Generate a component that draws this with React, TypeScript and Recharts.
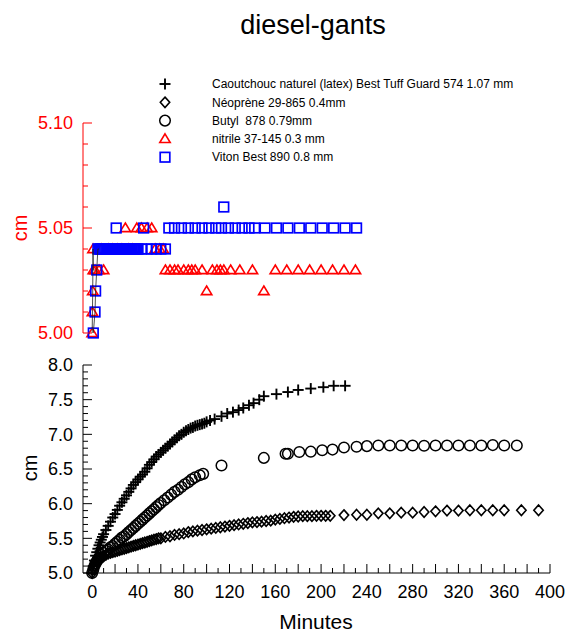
import React from "react";
import { ComposedChart, Scatter, XAxis, YAxis } from "recharts";

const FONT = "'Liberation Sans', Arial, Helvetica, sans-serif";
const RED = "#ff0000";
const BLUE = "#0000ff";
const BLACK = "#000000";

// Caoutchouc naturel (latex) Best Tuff Guard 574
const caoutchoucTime = [
  0, 1, 2, 3, 4, 5, 6, 7, 8, 9, 10,
  12, 14, 16, 18, 20, 22, 24, 26, 28, 30,
  32, 34, 36, 38, 40, 42, 44, 46, 48, 50,
  52, 54, 56, 58, 60, 62, 64, 66, 68, 70,
  72, 74, 76, 78, 80, 82, 84, 86, 88, 90,
  92, 94, 96, 98, 100,
  103, 107, 113, 118, 123, 128, 132, 137, 141, 146,
  150, 161, 171, 180, 191, 202, 211, 221,
];
const caoutchoucCm = [
  5.0, 5.1, 5.18, 5.25, 5.3, 5.35, 5.4, 5.44, 5.48, 5.52, 5.56,
  5.62, 5.68, 5.74, 5.8, 5.85, 5.91, 5.97, 6.02, 6.07, 6.12,
  6.17, 6.22, 6.27, 6.31, 6.35, 6.39, 6.42, 6.46, 6.51, 6.56,
  6.6, 6.64, 6.68, 6.71, 6.74, 6.77, 6.8, 6.83, 6.86, 6.89,
  6.92, 6.95, 6.98, 7.0, 7.03, 7.05, 7.07, 7.09, 7.1, 7.12,
  7.13, 7.14, 7.15, 7.16, 7.18,
  7.2, 7.22, 7.26, 7.3, 7.32, 7.35, 7.38, 7.42, 7.45, 7.5,
  7.55, 7.58, 7.61, 7.64, 7.66, 7.68, 7.7, 7.7,
];

// Néoprène 29-865
const neopreneTime = [
  0, 1, 2, 3, 4, 5, 6, 7, 8, 9, 10,
  12, 14, 16, 18, 20, 22, 24, 26, 28, 30,
  32, 34, 36, 38, 40, 42, 44, 46, 48, 50,
  52, 54, 56, 58, 60, 64, 68, 72, 76, 80,
  84, 88, 92, 96, 100, 104, 108, 112, 116, 120,
  124, 128, 132, 136, 140, 144, 148, 152, 156, 160,
  164, 168, 172, 176, 180, 184, 188, 192, 196, 200,
  204, 208, 220, 231, 240, 250, 260, 270, 280, 290,
  300, 310, 320, 330, 340, 350, 360, 375, 390,
];
const neopreneCm = [
  5.0, 5.06, 5.1, 5.13, 5.16, 5.18, 5.2, 5.21, 5.22, 5.23, 5.24,
  5.26, 5.28, 5.29, 5.3, 5.31, 5.32, 5.33, 5.34, 5.35, 5.36,
  5.37, 5.38, 5.39, 5.4, 5.41, 5.42, 5.43, 5.44, 5.45, 5.46,
  5.47, 5.48, 5.49, 5.5, 5.5, 5.52, 5.53, 5.55, 5.56, 5.57,
  5.59, 5.6, 5.61, 5.62, 5.63, 5.64, 5.65, 5.66, 5.67, 5.68,
  5.69, 5.7, 5.71, 5.72, 5.73, 5.735, 5.74, 5.75, 5.755, 5.77,
  5.78, 5.79, 5.8, 5.81, 5.815, 5.82, 5.82, 5.82, 5.825, 5.825,
  5.825, 5.825, 5.835, 5.84, 5.84, 5.86, 5.86, 5.87, 5.87, 5.88,
  5.89, 5.9, 5.9, 5.905, 5.905, 5.905, 5.905, 5.905, 5.905,
];

// Butyl 878
const butylTime = [
  0, 1, 2, 3, 4, 5, 6, 8, 10,
  12, 14, 16, 18, 20, 22, 24, 26, 28, 30,
  32, 34, 36, 38, 40, 42, 44, 46, 48, 50,
  52, 54, 56, 58, 60, 63, 66, 69, 72, 75,
  78, 81, 84, 87, 90, 94, 97,
  113, 150, 169, 171, 181, 191, 201, 210, 220, 231,
  240, 250, 260, 270, 280, 290, 300, 310, 320, 330, 340, 350, 360, 371,
];
const butylCm = [
  5.0, 5.05, 5.1, 5.14, 5.17, 5.2, 5.22, 5.26, 5.29,
  5.32, 5.34, 5.37, 5.39, 5.42, 5.45, 5.48, 5.51, 5.53, 5.56,
  5.59, 5.62, 5.65, 5.68, 5.71, 5.74, 5.77, 5.8, 5.83, 5.86,
  5.89, 5.92, 5.95, 5.98, 6.01, 6.05, 6.09, 6.13, 6.17, 6.2,
  6.24, 6.28, 6.31, 6.35, 6.38, 6.41, 6.43,
  6.55, 6.66, 6.72, 6.72, 6.745, 6.75, 6.77, 6.78, 6.81, 6.82,
  6.83, 6.84, 6.84, 6.84, 6.84, 6.835, 6.84, 6.84, 6.84, 6.84, 6.84, 6.845, 6.84, 6.84,
];

// nitrile 37-145
const nitrileTime = [
  0, 0.25, 0.5, 0.75, 1, 2.5, 6, 8, 10, 14,
  18, 22, 26, 29, 32, 35, 39, 43, 48, 52,
  55, 59, 62, 64, 68, 72, 75, 80, 84, 87,
  90, 96, 100, 105, 109, 112, 115, 121, 129, 140,
  150, 160, 170, 180, 190, 200, 210, 220, 230,
];
const nitrileCm = [
  5.0, 5.01, 5.02, 5.04, 5.03, 5.03, 5.03, 5.04, 5.03, 5.04,
  5.04, 5.04, 5.04, 5.05, 5.04, 5.04, 5.05, 5.05, 5.05, 5.05,
  5.04, 5.04, 5.04, 5.03, 5.03, 5.03, 5.03, 5.03, 5.03, 5.03,
  5.03, 5.03, 5.02, 5.03, 5.03, 5.03, 5.03, 5.03, 5.03, 5.03,
  5.02, 5.03, 5.03, 5.03, 5.03, 5.03, 5.03, 5.03, 5.03,
];

// Viton Best 890
const vitonTime = [
  1, 2.5, 3, 4, 5, 6, 7, 8, 9, 10,
  11, 12, 13, 14, 15, 16, 17, 18, 19, 20,
  21, 22, 23, 24, 25, 26, 27, 28, 29, 30,
  31, 32, 33, 34, 35, 36, 37, 38, 39, 40,
  43, 45, 48, 52, 56, 60, 64,
  67, 72, 78, 84, 90, 96, 102, 108, 113, 115,
  119, 125, 131, 137, 142,
  151, 161, 171, 181, 191, 201, 211, 221, 231,
];
const vitonCm = [
  5.0, 5.01, 5.02, 5.03, 5.04, 5.04, 5.04, 5.04, 5.04, 5.04,
  5.04, 5.04, 5.04, 5.04, 5.04, 5.04, 5.04, 5.04, 5.04, 5.04,
  5.05, 5.04, 5.04, 5.04, 5.04, 5.04, 5.04, 5.04, 5.04, 5.04,
  5.04, 5.04, 5.04, 5.04, 5.04, 5.04, 5.04, 5.04, 5.04, 5.04,
  5.04, 5.05, 5.04, 5.04, 5.04, 5.04, 5.04,
  5.05, 5.05, 5.05, 5.05, 5.05, 5.05, 5.05, 5.05, 5.05, 5.06,
  5.05, 5.05, 5.05, 5.05, 5.05,
  5.05, 5.05, 5.05, 5.05, 5.05, 5.05, 5.05, 5.05, 5.05,
];

const legendLabels = [
  "Caoutchouc naturel (latex) Best Tuff Guard 574 1.07 mm",
  "Néoprène 29-865 0.4mm",
  "Butyl  878 0.79mm",
  "nitrile 37-145 0.3 mm",
  "Viton Best 890 0.8 mm",
];

const xLabelTicks = [0, 40, 80, 120, 160, 200, 240, 280, 320, 360, 400];

const zip = (t: number[], v: number[]) => t.map((m, i) => ({ t: m, v: v[i] }));

const caoutchouc = zip(caoutchoucTime, caoutchoucCm);
const neoprene = zip(neopreneTime, neopreneCm);
const butyl = zip(butylTime, butylCm);
const nitrile = zip(nitrileTime, nitrileCm);
const viton = zip(vitonTime, vitonCm);

const X_DOMAIN: [number, number] = [-8, 400];
const xTicks = Array.from({ length: 41 }, (_, i) => i * 10);
const topTicks = Array.from({ length: 11 }, (_, i) => Number((5 + i * 0.01).toFixed(2)));
const bottomTicks = Array.from({ length: 31 }, (_, i) => Number((5 + i * 0.1).toFixed(1)));

// ---- marker shapes ----
const Plus = ({ cx, cy }: any) => (
  <g stroke={BLACK} strokeWidth={1.9}>
    <line x1={cx - 5.5} x2={cx + 5.5} y1={cy} y2={cy} />
    <line x1={cx} x2={cx} y1={cy - 5.5} y2={cy + 5.5} />
  </g>
);
const Diamond = ({ cx, cy }: any) => (
  <path
    d={`M${cx},${cy - 5.2}L${cx + 4.7},${cy}L${cx},${cy + 5.2}L${cx - 4.7},${cy}Z`}
    fill="none"
    stroke={BLACK}
    strokeWidth={1.6}
  />
);
const Ring = ({ cx, cy }: any) => (
  <circle cx={cx} cy={cy} r={5.3} fill="none" stroke={BLACK} strokeWidth={1.5} />
);
const Triangle = ({ cx, cy }: any) => (
  <path
    d={`M${cx},${cy - 5}L${cx + 5.2},${cy + 3.6}L${cx - 5.2},${cy + 3.6}Z`}
    fill="none"
    stroke={RED}
    strokeWidth={1.6}
  />
);
const Square = ({ cx, cy }: any) => (
  <rect x={cx - 4.8} y={cy - 4.8} width={9.6} height={9.6} fill="none" stroke={BLUE} strokeWidth={1.7} />
);
const Nothing = () => <g />;

// ---- inward ticks ----
const Y_MARGIN = 10;
const X_MARGIN = 10;

const yTick = (color: string, digits: number, majorEvery: number) => (props: any) => {
  const { x, y, payload, index } = props;
  const axisX = x + Y_MARGIN;
  const major = index % majorEvery === 0;
  return (
    <g>
      <line x1={axisX} x2={axisX + (major ? 9 : 5)} y1={y} y2={y} stroke={color} strokeWidth={1} />
      {major && (
        <text x={x} y={y} dy="0.36em" textAnchor="end" fill={color} fontSize={18} fontFamily={FONT}>
          {Number(payload.value).toFixed(digits)}
        </text>
      )}
    </g>
  );
};

const xTick = (props: any) => {
  const { x, y, payload } = props;
  const v = payload.value;
  const axisY = y - X_MARGIN;
  const tall = v % 20 === 0;
  return (
    <g>
      <line x1={x} x2={x} y1={axisY} y2={axisY - (tall ? 9 : 5)} stroke={BLACK} strokeWidth={1} />
      {xLabelTicks.includes(v) && (
        <text x={x} y={y + 15} textAnchor="middle" fill={BLACK} fontSize={18} fontFamily={FONT}>
          {v}
        </text>
      )}
    </g>
  );
};

const legendMarks = [Plus, Diamond, Ring, Triangle, Square];

export default function App() {
  return (
    <div style={{ position: "absolute", left: 0, top: 0, width: 566, height: 632, background: "#fff" }}>
      <div style={{ position: "absolute", left: 0, top: 100 }}>
        <ComposedChart width={566} height={250} margin={{ top: 23, right: 16, bottom: 17, left: 0 }}>
          <XAxis type="number" dataKey="t" domain={X_DOMAIN} allowDataOverflow hide />
          <YAxis
            type="number"
            dataKey="v"
            domain={[5, 5.1]}
            ticks={topTicks}
            interval={0}
            width={83}
            tickSize={0}
            tickMargin={Y_MARGIN}
            tickLine={false}
            axisLine={{ stroke: RED, strokeWidth: 1 }}
            tick={yTick(RED, 2, 5)}
          />
          <Scatter data={nitrile} dataKey="v" shape={Triangle} isAnimationActive={false} />
          <Scatter data={viton} dataKey="v" shape={Square} isAnimationActive={false} />
          <Scatter
            data={nitrile.slice(0, 6)}
            dataKey="v"
            shape={Nothing}
            line={{ stroke: "#222", strokeWidth: 0.8 }}
            isAnimationActive={false}
          />
          <Scatter
            data={viton.slice(0, 6)}
            dataKey="v"
            shape={Nothing}
            line={{ stroke: "#222", strokeWidth: 0.8 }}
            isAnimationActive={false}
          />
        </ComposedChart>
      </div>

      <div style={{ position: "absolute", left: 0, top: 340 }}>
        <ComposedChart width={566} height={292} margin={{ top: 25, right: 16, bottom: 0, left: 0 }}>
          <XAxis
            type="number"
            dataKey="t"
            domain={X_DOMAIN}
            ticks={xTicks}
            interval={0}
            height={59}
            tickSize={0}
            tickMargin={X_MARGIN}
            tickLine={false}
            axisLine={{ stroke: BLACK, strokeWidth: 1 }}
            tick={xTick}
          />
          <YAxis
            type="number"
            dataKey="v"
            domain={[5, 8]}
            ticks={bottomTicks}
            interval={0}
            width={83}
            tickSize={0}
            tickMargin={Y_MARGIN}
            tickLine={false}
            axisLine={{ stroke: BLACK, strokeWidth: 1 }}
            tick={yTick(BLACK, 1, 5)}
          />
          <Scatter data={neoprene} dataKey="v" shape={Diamond} isAnimationActive={false} />
          <Scatter data={butyl} dataKey="v" shape={Ring} isAnimationActive={false} />
          <Scatter data={caoutchouc} dataKey="v" shape={Plus} isAnimationActive={false} />
        </ComposedChart>
      </div>

      <svg width={566} height={632} style={{ position: "absolute", left: 0, top: 0, pointerEvents: "none" }}>
        <text x={313} y={34} textAnchor="middle" fontSize={27} fontFamily={FONT} fill={BLACK}>
          diesel-gants
        </text>
        {legendLabels.map((label, i) => {
          const Mark = legendMarks[i];
          const y = 84 + i * 18.3;
          return (
            <g key={label}>
              <Mark cx={165} cy={y} />
              <text x={212} y={y} dy="0.35em" fontSize={12} fontFamily={FONT} fill={BLACK} style={{ whiteSpace: "pre" }}>
                {label}
              </text>
            </g>
          );
        })}
        <text
          x={0}
          y={0}
          transform="translate(20,228) rotate(-90)"
          textAnchor="middle"
          dy="0.35em"
          fontSize={20}
          fontFamily={FONT}
          fill={RED}
        >
          cm
        </text>
        <text
          x={0}
          y={0}
          transform="translate(30,468) rotate(-90)"
          textAnchor="middle"
          dy="0.35em"
          fontSize={20}
          fontFamily={FONT}
          fill={BLACK}
        >
          cm
        </text>
        <text x={316} y={629} textAnchor="middle" fontSize={21} fontFamily={FONT} fill={BLACK}>
          Minutes
        </text>
      </svg>
    </div>
  );
}
